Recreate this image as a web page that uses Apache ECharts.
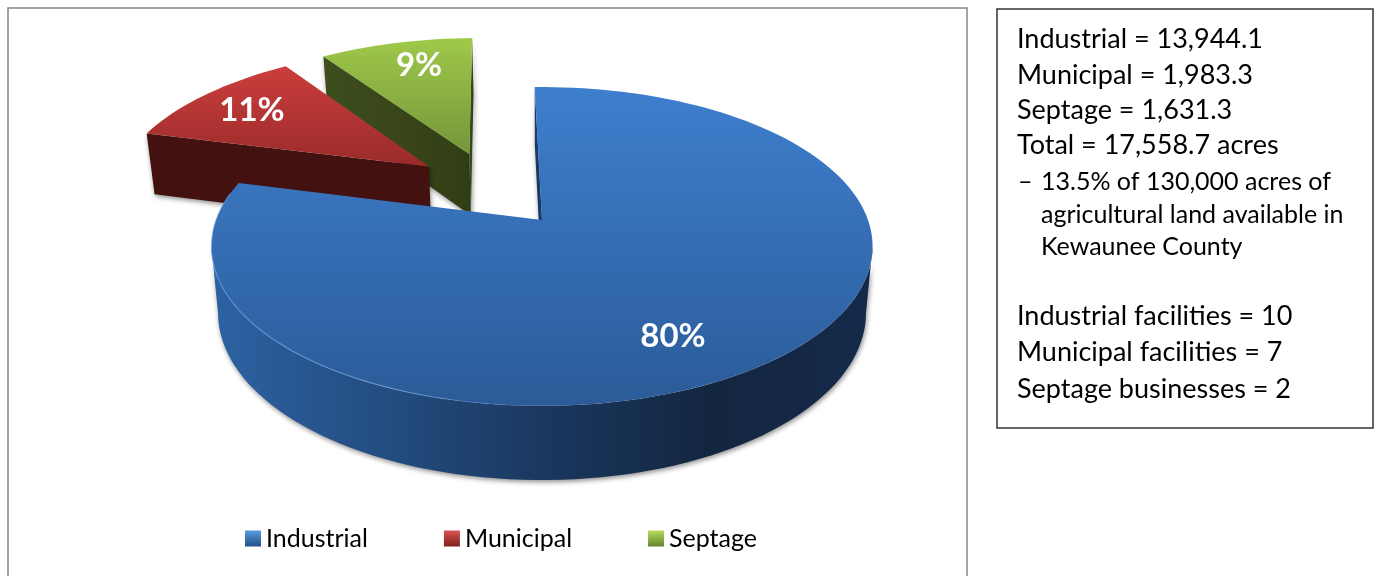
<!DOCTYPE html>
<html>
<head>
<meta charset="utf-8">
<title>Acres by source</title>
<script src="https://cdn.jsdelivr.net/npm/echarts@6/dist/echarts.min.js"></script>
<style>
  html, body { margin: 0; padding: 0; background: #fff; }
  #chart { width: 1380px; height: 576px; }
</style>
</head>
<body>
<div id="chart"></div>
<script>
const categories = ["Industrial", "Municipal", "Septage"];
const acres = [13944.1, 1983.3, 1631.3];
const percentLabels = ["80%", "11%", "9%"];
const summaryLines = [
  "Industrial = 13,944.1",
  "Municipal = 1,983.3",
  "Septage = 1,631.3",
  "Total = 17,558.7 acres",
];
const noteLines = [
  "13.5% of 130,000 acres of",
  "agricultural land available in",
  "Kewaunee County",
];
const facilityLines = [
  "Industrial facilities = 10",
  "Municipal facilities = 7",
  "Septage businesses = 2",
];

const FONT = "Lato, 'Open Sans', sans-serif";
const grad = echarts.graphic.LinearGradient;

// camera: a flat disc seen from above, so near things are drawn bigger
const cam = { ax: 542, ay: 220, rx: 326, ry: 155, persp: 0.166, depth: 65, shrink: 0.02 };
const START_ANGLE = -1.5;
// the rim is only visible between the two side silhouettes, cos(a) = -persp
const FRONT_FROM = 99.6;
const FRONT_TO = 260.4;

// how each slice is pulled out of the pie and painted
const sliceStyle = {
  Industrial: {
    shift: [0, 0], labelAt: [673, 336],
    top: ["#3e7fce", "#2b5b98"],
    wall: new grad(0, 0, 1, 0, [
      { offset: 0, color: "#2c62a3" },
      { offset: 0.25, color: "#244e82" },
      { offset: 0.5, color: "#1a3860" },
      { offset: 0.75, color: "#132640" },
      { offset: 1, color: "#152a4a" },
    ]),
    cut: "#173a66",
  },
  Municipal: {
    shift: [-0.368, -0.367], labelAt: [252, 110],
    top: ["#cb3e3c", "#992b2a"],
    wall: "#43110f",
    cut: "#43110f",
  },
  Septage: {
    shift: [-0.24, -0.459], labelAt: [419, 65],
    top: ["#9fc94a", "#75953a"],
    wall: "#36441a",
    cut: new grad(0, 0, 1, 0, [
      { offset: 0, color: "#3f4e1d" },
      { offset: 1, color: "#313e15" },
    ]),
  },
};

function project(u, v, z) {
  const s = 1 / (1 - cam.persp * v);
  const k = 1 - cam.shrink * z;
  return [cam.ax + cam.rx * u * s * k, cam.ay + cam.ry * v * s * k + cam.depth * s * z];
}

function sliceAngles(index) {
  const total = acres.reduce((a, b) => a + b, 0);
  const before = acres.slice(0, index).reduce((a, b) => a + b, 0);
  return [
    START_ANGLE + (before / total) * 360,
    START_ANGLE + ((before + acres[index]) / total) * 360,
  ];
}

function arcPoints(from, to, shift, z) {
  const pts = [];
  const steps = Math.max(4, Math.ceil(Math.abs(to - from) / 2));
  for (let i = 0; i <= steps; i++) {
    const a = ((from + ((to - from) * i) / steps) * Math.PI) / 180;
    pts.push(project(shift[0] + Math.sin(a), shift[1] - Math.cos(a), z));
  }
  return pts;
}

function signedArea(pts) {
  let sum = 0;
  pts.forEach((p, i) => {
    const q = pts[(i + 1) % pts.length];
    sum += p[0] * q[1] - q[0] * p[1];
  });
  return sum;
}

function renderSlice(params, api) {
  const index = api.value(0);
  const name = categories[index];
  const st = sliceStyle[name];
  const [from, to] = sliceAngles(index);
  const apexTop = project(st.shift[0], st.shift[1], 0);
  const apexBottom = project(st.shift[0], st.shift[1], 1);
  const rimTop = arcPoints(from, to, st.shift, 0);
  const rimBottom = arcPoints(from, to, st.shift, 1);

  const shadow = { shadowColor: "rgba(0,0,0,0.45)", shadowBlur: 5, shadowOffsetX: 1, shadowOffsetY: 2 };
  const children = [];

  // radial cut faces, only the ones turned toward the viewer
  const fromFace = [apexTop, rimTop[0], rimBottom[0], apexBottom];
  const toFace = [apexTop, rimTop[rimTop.length - 1], rimBottom[rimBottom.length - 1], apexBottom];
  if (signedArea(fromFace) < 0) {
    children.push({ type: "polygon", shape: { points: fromFace }, style: { fill: st.cut, ...shadow } });
  }
  if (signedArea(toFace) > 0) {
    children.push({ type: "polygon", shape: { points: toFace }, style: { fill: st.cut, ...shadow } });
  }

  const wallFrom = Math.max(from, FRONT_FROM);
  const wallTo = Math.min(to, FRONT_TO);
  if (wallTo > wallFrom) {
    const wallTop = arcPoints(wallFrom, wallTo, st.shift, 0);
    const wallBottom = arcPoints(wallFrom, wallTo, st.shift, 1);
    children.push({
      type: "polygon",
      shape: { points: wallTop.concat(wallBottom.reverse()) },
      style: { fill: st.wall, ...shadow },
    });
  }

  children.push({
    type: "polygon",
    shape: { points: [apexTop].concat(rimTop) },
    style: { fill: new grad(0, 0, 0, 1, [
      { offset: 0, color: st.top[0] },
      { offset: 1, color: st.top[1] },
    ]) },
  });

  if (name === "Industrial") {
    // thin lit edge on the near rim
    children.push({
      type: "polyline",
      shape: { points: arcPoints(180, 280, st.shift, 0) },
      style: {
        fill: null,
        lineWidth: 1.2,
        stroke: new grad(1, 1, 0, 0, [
          { offset: 0, color: "rgba(110,165,230,0)" },
          { offset: 0.4, color: "rgba(110,165,230,0.7)" },
          { offset: 1, color: "rgba(110,165,230,0.5)" },
        ]),
      },
    });
  }

  children.push({
    type: "text",
    style: {
      text: percentLabels[index],
      x: st.labelAt[0],
      y: st.labelAt[1],
      align: "center",
      verticalAlign: "middle",
      fill: "#fff",
      font: "bold 33px " + FONT,
      shadowColor: "rgba(0,0,0,0.6)",
      shadowBlur: 3,
      shadowOffsetX: 1,
      shadowOffsetY: 1,
    },
  });

  return { type: "group", children };
}

function textLine(text, x, y, size) {
  return {
    type: "text",
    style: { text, x, y, fill: "#000", font: size + "px " + FONT, verticalAlign: "middle" },
  };
}

const sidePanel = [
  {
    type: "rect",
    shape: { x: 8, y: 8, width: 959, height: 580 },
    style: { fill: "none", stroke: "#868686", lineWidth: 1.5 },
  },
  {
    type: "rect",
    shape: { x: 997, y: 9, width: 376, height: 419 },
    style: { fill: "none", stroke: "#333", lineWidth: 1.5 },
  },
];
[39, 75, 110, 145].forEach((y, i) => sidePanel.push(textLine(summaryLines[i], 1017, y, 27)));
sidePanel.push(textLine("\u2013", 1018, 182, 25));
[182, 215, 247].forEach((y, i) => sidePanel.push(textLine(noteLines[i], 1041, y, 25)));
[316, 352, 389].forEach((y, i) => sidePanel.push(textLine(facilityLines[i], 1017, y, 27)));

const legendColors = [
  ["#5a9be0", "#234f86"],
  ["#d9534f", "#7f2220"],
  ["#b5dc5c", "#66832f"],
];

// back slices first so the big one covers them
const drawOrder = [2, 1, 0];

const chart = echarts.init(document.getElementById("chart"), null, { renderer: "canvas" });
chart.setOption({
  animation: false,
  legend: {
    data: categories,
    left: 240,
    top: 521,
    icon: "rect",
    itemWidth: 16,
    itemHeight: 16,
    itemGap: 76,
    textStyle: { fontFamily: FONT, fontSize: 25, color: "#000" },
    selectedMode: false,
  },
  graphic: { elements: sidePanel },
  series: drawOrder.map((i) => ({
    type: "custom",
    name: categories[i],
    coordinateSystem: "none",
    silent: true,
    itemStyle: {
      color: new grad(0, 0, 0, 1, [
        { offset: 0, color: legendColors[i][0] },
        { offset: 1, color: legendColors[i][1] },
      ]),
    },
    renderItem: renderSlice,
    data: [[i, acres[i]]],
  })),
});
</script>
</body>
</html>
